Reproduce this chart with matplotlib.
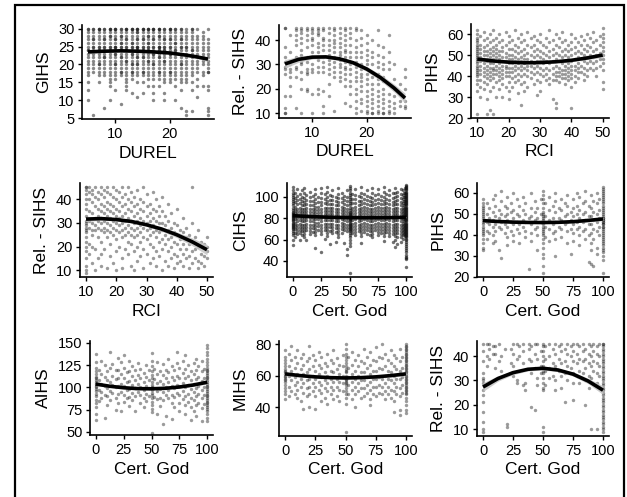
import matplotlib
matplotlib.use("Agg")
import numpy as np
import matplotlib.pyplot as plt
from matplotlib.patches import Rectangle

plt.rcParams['font.family'] = ['Liberation Sans', 'DejaVu Sans']

W, H = 627, 497

# ---------------- data ----------------
# panel 1: GIHS vs DUREL, one list of GIHS values per DUREL score
durel = [5, 6, 7, 8, 9, 10, 11, 12, 13, 14, 15, 16, 17, 18, 19, 20, 21, 22, 23, 24, 25, 26, 27]
gihs_cols = [
    [30, 30, 29, 28, 27, 26, 25, 24, 24, 23, 22, 21, 20, 19, 18, 17, 15, 13, 10],
    [30, 30, 29, 28, 27, 27, 26, 25, 25, 24, 23, 22, 21, 20, 19, 18, 6],
    [30, 30, 30, 29, 28, 27, 26, 25, 25, 24, 24, 23, 22, 21, 20, 20, 19, 18, 17, 15],
    [30, 30, 29, 28, 27, 27, 26, 25, 25, 24, 23, 22, 22, 21, 20, 19, 18, 17, 8],
    [30, 30, 30, 29, 28, 28, 27, 26, 25, 25, 24, 24, 23, 22, 21, 20, 19, 18, 17, 16, 15, 14, 10],
    [30, 30, 30, 29, 28, 27, 27, 26, 25, 25, 25, 24, 23, 23, 22, 21, 20, 20, 19, 18, 17, 16, 13],
    [30, 30, 29, 28, 28, 27, 26, 26, 25, 25, 24, 24, 23, 22, 22, 21, 20, 19, 18, 18, 17, 9],
    [30, 30, 30, 29, 28, 27, 27, 26, 25, 25, 24, 24, 23, 22, 21, 21, 20, 19, 18, 17, 16, 15, 14, 13],
    [30, 30, 30, 29, 28, 27, 26, 26, 25, 25, 24, 23, 23, 22, 21, 20, 20, 19, 18, 18, 17, 16, 12],
    [30, 30, 30, 29, 29, 28, 27, 27, 26, 25, 25, 25, 24, 24, 23, 22, 22, 21, 20, 20, 19, 18, 17, 15, 11],
    [30, 30, 30, 29, 28, 27, 27, 26, 25, 25, 24, 24, 23, 22, 22, 21, 20, 19, 18, 18, 17, 15, 12],
    [30, 30, 30, 29, 28, 28, 27, 26, 26, 25, 25, 24, 24, 23, 22, 21, 21, 20, 19, 18, 17, 16, 14],
    [30, 30, 30, 29, 28, 27, 27, 26, 25, 25, 24, 23, 23, 22, 21, 20, 20, 19, 18, 17, 16, 14, 12, 10],
    [30, 30, 30, 29, 28, 28, 27, 26, 25, 25, 25, 24, 24, 23, 22, 22, 21, 20, 19, 18, 18, 17, 16, 14],
    [30, 30, 29, 28, 27, 27, 26, 25, 25, 24, 24, 23, 22, 21, 21, 20, 19, 18, 17, 16, 15, 12, 10],
    [30, 30, 30, 29, 28, 27, 27, 26, 25, 25, 24, 23, 23, 22, 21, 20, 19, 18, 18, 17, 16, 15],
    [30, 30, 29, 28, 27, 26, 26, 25, 24, 24, 23, 22, 21, 20, 19, 18, 17, 16, 14, 10],
    [30, 30, 29, 28, 27, 27, 26, 25, 25, 24, 23, 22, 21, 20, 20, 19, 18, 17, 16, 15, 13, 8],
    [30, 29, 28, 27, 26, 25, 25, 24, 23, 22, 21, 20, 19, 18, 17, 16, 15, 7, 6],
    [30, 30, 29, 28, 27, 26, 25, 24, 24, 23, 22, 21, 20, 19, 18, 17, 15, 13, 7],
    [30, 28, 27, 26, 25, 24, 23, 22, 21, 20, 19, 18, 16, 14, 11],
    [29, 28, 27, 26, 25, 24, 23, 22, 21, 20, 18, 17, 14],
    [30, 27, 26, 25, 24, 23, 22, 21, 20, 19, 18, 18, 14, 13, 8, 7, 6],
]
p1_fit_x = [5, 8, 11, 14, 17, 20, 23, 25, 27]
p1_fit_y = [23.5, 23.7, 23.8, 23.7, 23.5, 23.2, 22.6, 22.1, 21.5]
p1_fit_se = [0.5, 0.3, 0.25, 0.25, 0.25, 0.3, 0.35, 0.45, 0.6]

# panel 2: Rel. - SIHS vs DUREL
sihs_durel_cols = [
    [45, 45, 37, 33, 31, 29, 28, 26, 17, 12, 10, 10],
    [42, 35, 30, 28, 27, 25, 21, 17],
    [45, 44, 42, 40, 38, 33, 29, 28, 25, 12],
    [45, 44, 43, 41, 39, 36, 34, 31, 30, 27, 24, 20, 10],
    [45, 44, 42, 40, 37, 33, 31, 28, 27, 26, 20, 19],
    [45, 44, 43, 41, 40, 38, 35, 33, 30, 28, 27, 18, 10],
    [45, 44, 43, 42, 39, 37, 35, 32, 29, 27, 20, 18],
    [45, 44, 41, 40, 38, 36, 33, 31, 29, 27, 19, 13, 10],
    [45, 43, 40, 38, 36, 34, 32, 30, 28, 26, 22, 17],
    [45, 44, 42, 40, 39, 37, 35, 33, 31, 29, 27, 25, 11],
    [45, 43, 41, 39, 37, 35, 34, 32, 30, 29, 27, 25, 23],
    [45, 44, 42, 40, 38, 36, 35, 33, 31, 29, 28, 26, 24, 21, 14],
    [45, 43, 41, 38, 35, 33, 31, 30, 28, 26, 23, 21, 18, 13],
    [45, 44, 40, 37, 35, 33, 31, 29, 27, 25, 23, 20, 18, 15, 12, 10],
    [44, 41, 38, 35, 33, 30, 28, 26, 25, 23, 21, 19, 16, 14, 11],
    [42, 39, 36, 34, 32, 30, 28, 26, 24, 22, 19, 17, 15, 13, 11, 10],
    [40, 35, 33, 30, 27, 25, 22, 20, 18, 16, 14, 12, 10, 10],
    [44, 38, 34, 31, 29, 26, 24, 22, 19, 17, 15, 13, 11, 10],
    [37, 33, 30, 28, 25, 23, 20, 18, 16, 14, 12, 10, 10],
    [42, 35, 31, 28, 22, 18, 15, 13, 11, 10],
    [30, 24, 20, 17, 14, 12, 10],
    [22, 18, 15, 13],
    [28, 25, 20, 15, 13, 12],
]
p2_fit_x = [5, 7.5, 10, 12.5, 15, 17.5, 20, 22.5, 25, 27]
p2_fit_y = [30.2, 32.1, 33.0, 33.1, 32.3, 30.7, 28.1, 24.6, 20.3, 16.2]
p2_fit_se = [1.8, 1.2, 0.8, 0.7, 0.7, 0.8, 1.0, 1.3, 1.6, 2.0]

# panel 3: PIHS vs RCI
rci = [10, 11, 12, 13, 14, 15, 16, 17, 18, 19, 20, 21, 22, 23, 24, 25, 26, 27, 28, 29,
       30, 31, 32, 33, 34, 35, 36, 37, 38, 39, 40, 41, 42, 43, 44, 45, 46, 47, 48, 49, 50]
pihs_rci_cols = [
    [62, 60, 58, 57, 56, 55, 54, 53, 52, 51, 50, 49, 48, 47, 46, 45, 44, 43, 42, 41, 40, 38, 36, 33, 22],
    [59, 55, 53, 51, 49, 47, 45, 43, 41, 38, 35, 30],
    [61, 57, 54, 52, 50, 48, 46, 44, 42, 40, 37, 34],
    [58, 55, 52, 50, 48, 47, 45, 43, 41, 39, 36, 29, 22],
    [60, 56, 53, 51, 49, 47, 46, 44, 42, 40, 38, 33, 24],
    [62, 57, 54, 52, 50, 48, 46, 44, 43, 41, 39, 35, 22],
    [58, 55, 53, 51, 49, 47, 45, 43, 41, 37, 30],
    [60, 56, 52, 50, 48, 46, 44, 42, 40, 38, 34],
    [57, 54, 52, 49, 47, 45, 43, 41, 39, 36, 30],
    [61, 55, 51, 49, 47, 45, 44, 42, 40, 35],
    [59, 56, 53, 50, 48, 46, 44, 42, 40, 37, 33, 29],
    [57, 53, 50, 48, 46, 44, 42, 39, 35],
    [62, 55, 52, 49, 47, 45, 43, 40, 37],
    [58, 54, 51, 48, 46, 44, 41, 38, 32],
    [60, 56, 52, 49, 47, 45, 43, 40, 36, 26],
    [57, 53, 50, 48, 46, 44, 41, 37, 33],
    [61, 55, 51, 48, 45, 43, 40, 35],
    [58, 54, 50, 47, 45, 42, 39],
    [59, 55, 52, 49, 46, 44, 41, 36],
    [57, 53, 50, 47, 45, 42, 38, 31],
    [60, 56, 52, 49, 47, 44, 41, 37, 33],
    [55, 51, 48, 46, 43, 40],
    [58, 54, 50, 47, 44, 41, 38],
    [62, 56, 52, 49, 46, 43, 39, 36],
    [57, 53, 50, 47, 44, 41, 38, 29],
    [60, 55, 51, 48, 45, 42, 40, 38, 27, 25],
    [58, 54, 50, 47, 44, 42, 40, 37],
    [61, 56, 52, 49, 46, 43, 41, 39],
    [57, 53, 50, 47, 45, 43, 41, 39, 36],
    [55, 52, 49, 46, 44, 42, 40, 38],
    [60, 56, 53, 50, 47, 45, 43, 41, 39, 35, 25],
    [58, 54, 51, 48, 45, 43, 40, 37],
    [56, 52, 49, 46, 44, 42, 39],
    [59, 55, 51, 48, 45, 42],
    [57, 53, 50, 47, 44, 41, 38],
    [60, 55, 52, 49, 46, 43, 40],
    [58, 54, 50, 47, 44],
    [61, 56, 52, 49, 46, 43],
    [57, 53, 50, 47, 44, 40],
    [59, 55, 51, 48, 45],
    [63, 60, 58, 56, 54, 52, 50, 48, 46, 43, 37, 34],
]
p3_fit_x = [10, 15, 20, 25, 30, 35, 40, 45, 50]
p3_fit_y = [48.1, 47.2, 46.6, 46.3, 46.4, 46.8, 47.5, 48.6, 50.0]
p3_fit_se = [0.8, 0.5, 0.4, 0.4, 0.4, 0.45, 0.6, 0.8, 1.1]

# panel 4: Rel. - SIHS vs RCI
sihs_rci_cols = [
    [45, 45, 44, 42, 40, 38, 36, 33, 31, 30, 29, 28, 27, 26, 24, 22, 20, 18, 15, 12, 10, 9],
    [45, 43, 40, 35, 31, 28, 21, 17],
    [44, 42, 39, 34, 30, 27, 25, 20, 13],
    [45, 41, 37, 32, 29, 27, 19, 10],
    [43, 40, 36, 33, 31, 28, 24, 15],
    [45, 42, 38, 35, 32, 30, 27, 22, 17, 12],
    [44, 41, 37, 34, 31, 28, 26, 19],
    [45, 43, 39, 36, 33, 30, 27, 24, 11],
    [42, 38, 35, 32, 29, 26, 21, 16],
    [45, 41, 37, 34, 31, 28, 25, 13],
    [44, 40, 36, 33, 30, 27, 23, 18, 10],
    [43, 39, 35, 32, 29, 26, 20],
    [45, 41, 37, 33, 30, 27, 24, 15, 11],
    [42, 38, 34, 31, 28, 25, 19],
    [45, 40, 36, 32, 29, 26, 22, 17],
    [43, 39, 35, 31, 28, 25, 21, 12],
    [41, 37, 33, 30, 27, 24, 18, 10],
    [44, 38, 34, 31, 28, 25, 20, 14],
    [40, 36, 32, 29, 26, 22, 16],
    [45, 39, 35, 31, 28, 24, 19, 11],
    [42, 37, 33, 30, 27, 23, 17],
    [38, 34, 31, 28, 25, 21, 13],
    [43, 36, 32, 29, 26, 20, 15],
    [40, 35, 31, 27, 24, 18, 12],
    [37, 33, 30, 26, 22, 16],
    [41, 35, 30, 27, 23, 19, 10],
    [33, 29, 25, 21, 14],
    [38, 31, 27, 23, 18, 12],
    [34, 28, 24, 20, 15],
    [30, 26, 22, 17, 11],
    [36, 29, 25, 21, 16, 13],
    [27, 23, 19, 14],
    [32, 26, 21, 17, 12],
    [28, 24, 19, 15],
    [25, 21, 16, 11],
    [45, 30, 22, 18, 13],
    [24, 19, 15],
    [27, 20, 14, 11],
    [22, 17, 13],
    [21, 16, 12],
    [24, 20, 18, 15],
]
p4_fit_x = [10, 15, 20, 25, 30, 35, 40, 45, 50]
p4_fit_y = [31.6, 31.8, 31.4, 30.6, 29.2, 27.4, 25.0, 22.1, 18.7]
p4_fit_se = [1.0, 0.7, 0.6, 0.6, 0.7, 0.9, 1.2, 1.6, 2.2]

# panel 5: CIHS vs Cert. God
cert5 = [0, 2, 4, 6, 8, 10, 12, 15, 18, 20, 22, 25, 28, 30, 33, 35, 38, 40, 43, 45, 48,
         50, 52, 55, 58, 60, 63, 65, 68, 70, 72, 75, 78, 80, 82, 85, 88, 90, 92, 95, 97, 98, 99, 100]
cihs_cols = [
    [109, 106, 104, 102, 100, 98, 96, 94, 92, 90, 88, 86, 85, 84, 83, 82, 81, 80, 79, 78, 77, 76, 75, 74, 73, 72, 71, 70, 68, 66, 64, 60, 55],
    [104, 99, 95, 91, 88, 85, 82, 79, 76, 73, 70, 66, 62],
    [107, 101, 97, 93, 89, 86, 83, 80, 77, 74, 71, 68, 65],
    [103, 98, 94, 90, 87, 84, 81, 78, 75, 72, 69, 66, 60],
    [106, 100, 96, 92, 89, 86, 83, 80, 77, 74, 71, 68, 64],
    [108, 104, 99, 95, 92, 89, 86, 83, 80, 77, 74, 71, 68, 65, 62],
    [102, 97, 93, 90, 87, 84, 81, 78, 75, 72, 69, 60],
    [105, 100, 96, 92, 89, 86, 83, 80, 77, 74, 71, 68, 65],
    [101, 96, 92, 89, 86, 83, 80, 77, 74, 71, 67],
    [107, 103, 98, 94, 91, 88, 85, 82, 79, 76, 73, 70, 67, 64, 52],
    [100, 95, 91, 88, 85, 82, 79, 76, 73, 69],
    [108, 104, 99, 95, 92, 89, 86, 83, 80, 77, 74, 71, 68, 65, 48],
    [103, 98, 94, 90, 87, 84, 81, 78, 75, 72, 69, 61],
    [109, 105, 100, 96, 93, 90, 87, 84, 81, 78, 75, 72, 69, 66, 63],
    [102, 97, 93, 90, 87, 84, 81, 78, 75, 72, 68, 56],
    [106, 101, 97, 93, 90, 87, 84, 81, 78, 75, 72, 69, 66],
    [100, 96, 92, 89, 86, 83, 80, 77, 74, 71, 67, 58],
    [108, 103, 99, 95, 92, 89, 86, 83, 80, 77, 74, 71, 68, 65, 62],
    [104, 99, 95, 91, 88, 85, 82, 79, 76, 73, 70, 66],
    [101, 97, 93, 90, 87, 84, 81, 78, 75, 72, 69, 57],
    [106, 100, 96, 92, 89, 86, 83, 80, 77, 74, 71, 68, 51, 46],
    [110, 108, 106, 104, 102, 100, 98, 96, 94, 92, 90, 88, 86, 85, 84, 83, 82, 81, 80, 79, 78, 77, 76, 75, 74, 73, 72, 71, 70, 69, 68, 66, 64, 62, 60, 57, 54, 29],
    [103, 98, 94, 90, 87, 84, 81, 78, 75, 72, 69, 66],
    [107, 102, 98, 94, 91, 88, 85, 82, 79, 76, 73, 70, 67, 64],
    [101, 96, 92, 89, 86, 83, 80, 77, 74, 71, 68],
    [109, 104, 100, 96, 93, 90, 87, 84, 81, 78, 75, 72, 69, 66, 63, 57],
    [103, 98, 94, 91, 88, 85, 82, 79, 76, 73, 70, 67],
    [106, 101, 97, 93, 90, 87, 84, 81, 78, 75, 72, 69, 65],
    [100, 96, 92, 89, 86, 83, 80, 77, 74, 71, 68, 64],
    [108, 104, 99, 95, 92, 89, 86, 83, 80, 77, 74, 71, 68, 65, 62],
    [102, 97, 93, 90, 87, 84, 81, 78, 75, 72, 69],
    [107, 103, 98, 94, 91, 88, 85, 82, 79, 76, 73, 70, 67, 64],
    [101, 97, 93, 90, 87, 84, 81, 78, 75, 72, 69, 66],
    [109, 105, 100, 96, 93, 90, 87, 84, 81, 78, 75, 72, 69, 66, 63, 59],
    [103, 98, 94, 91, 88, 85, 82, 79, 76, 73, 70, 67],
    [106, 102, 97, 93, 90, 87, 84, 81, 78, 75, 72, 69, 66, 63],
    [104, 99, 95, 92, 89, 86, 83, 80, 77, 74, 71, 68, 65, 58],
    [108, 104, 100, 96, 93, 90, 87, 84, 81, 78, 75, 72, 69, 66, 63, 60, 53],
    [105, 101, 97, 93, 90, 87, 84, 81, 78, 75, 72, 69, 66, 62, 56],
    [107, 103, 99, 95, 92, 89, 86, 83, 80, 77, 74, 71, 68, 65, 62, 58],
    [106, 102, 98, 94, 91, 88, 85, 82, 79, 76, 73, 70, 67, 64, 61],
    [104, 100, 96, 92, 89, 86, 83, 80, 77, 74, 71, 68, 65],
    [108, 104, 100, 96, 93, 90, 87, 84, 81, 78, 75, 72, 69, 66, 63],
    [111, 110, 109, 108, 107, 106, 105, 104, 103, 102, 101, 100, 99, 98, 97, 96, 95, 94, 93, 92, 91, 90,
     89, 88, 87, 86, 85, 84, 83, 82, 81, 80, 79, 78, 77, 76, 75, 74, 73, 72, 71, 70, 69, 68, 67, 66,
     65, 64, 63, 62, 61, 60, 58, 56, 54, 52, 50, 48, 46, 44, 43, 42, 34],
]
p5_fit_x = [0, 12.5, 25, 37.5, 50, 62.5, 75, 87.5, 100]
p5_fit_y = [82.4, 81.7, 81.2, 80.8, 80.6, 80.5, 80.5, 80.6, 80.9]
p5_fit_se = [0.7, 0.5, 0.4, 0.35, 0.35, 0.35, 0.35, 0.4, 0.5]

# panels 6-9: Cert. God subsample
cert_sub = [0, 3, 5, 8, 10, 13, 15, 18, 20, 23, 25, 28, 30, 33, 35, 38, 40, 43, 45, 48,
            50, 52, 55, 58, 60, 63, 65, 68, 70, 73, 75, 78, 80, 83, 85, 88, 90, 92, 95, 97, 100]
pihs_cols = [
    [57, 55, 54, 53, 52, 51, 50, 49, 48, 47, 46, 45, 44, 43, 42, 41, 40, 38, 36, 34, 33],
    [55, 50, 46, 42, 38], [53, 48, 45, 41], [57, 51, 47, 44, 40, 36], [59, 54, 49, 45, 42, 37],
    [52, 48, 44, 33], [61, 56, 50, 46, 43, 29], [54, 49, 45, 41], [58, 53, 50, 47, 44, 39, 35],
    [55, 51, 46, 42], [60, 52, 48, 45, 40, 37], [57, 50, 46, 43], [54, 49, 45, 41, 36],
    [58, 52, 47, 44], [55, 50, 46, 42, 39], [48, 24], [60, 53, 49, 45, 41, 37], [56, 51, 47, 43],
    [53, 48, 44, 40, 33], [57, 50, 46],
    [61, 59, 57, 55, 53, 51, 50, 49, 48, 47, 46, 45, 44, 43, 42, 41, 40, 38, 36, 34, 31, 29, 25, 22],
    [55, 49, 44, 39], [58, 52, 47, 43, 37], [54, 48, 45, 41], [60, 56, 51, 46, 42, 38, 30],
    [53, 48, 44], [57, 52, 47, 43, 39], [55, 49, 45], [59, 54, 50, 46, 42, 36], [51, 47, 43, 31],
    [57, 53, 49, 45, 41, 37], [60, 54, 50, 46, 43], [58, 52, 48, 44, 40, 35], [55, 50, 46, 42],
    [61, 56, 51, 47, 43, 38], [54, 49, 45, 40, 27], [59, 53, 49, 45, 41, 36, 33, 26],
    [56, 51, 47, 43, 38, 25], [60, 55, 50, 46, 42, 34, 31], [57, 52, 48, 44, 40],
    [63, 62, 61, 60, 59, 58, 57, 56, 55, 54, 53, 52, 51, 50, 49, 48, 48, 47, 47, 46, 46, 45, 45, 44,
     44, 43, 42, 41, 40, 39, 38, 37, 36, 35, 34, 33, 32, 30, 28, 22],
]
aihs_cols = [
    [137, 128, 122, 118, 115, 112, 110, 108, 106, 104, 102, 100, 98, 96, 93, 90, 86, 82, 78, 70, 63],
    [120, 108, 97, 85], [130, 115, 104, 95, 88], [125, 112, 101, 92, 66], [118, 108, 99, 90, 80],
    [140, 122, 106, 96, 86], [126, 113, 103, 94], [119, 109, 100, 88, 75],
    [133, 120, 110, 102, 93, 82], [128, 115, 104, 95, 73], [136, 122, 111, 101, 92, 84],
    [117, 106, 97, 88], [130, 118, 107, 98, 89, 79], [124, 113, 103, 94, 86],
    [119, 108, 99, 90, 74], [127, 114, 104, 95], [121, 110, 100, 91, 82], [116, 106, 97, 88, 78],
    [125, 112, 102, 93, 85], [119, 108, 99, 90],
    [139, 130, 124, 118, 114, 110, 106, 103, 100, 97, 94, 91, 88, 84, 80, 76, 72, 49],
    [121, 109, 99, 89], [128, 115, 105, 96, 87, 70], [118, 107, 98, 88, 79],
    [126, 114, 104, 95, 86, 59], [120, 110, 100, 91, 68], [132, 117, 106, 97, 88],
    [124, 112, 102, 92, 82, 65], [119, 108, 99, 89, 78], [140, 127, 113, 103, 94],
    [122, 111, 101, 92, 83, 74], [130, 116, 105, 96, 87], [136, 121, 110, 100, 90, 80, 70],
    [125, 113, 103, 93, 84], [118, 108, 98, 88, 78, 63], [127, 115, 104, 95, 86, 73],
    [132, 120, 109, 99, 90, 80, 68], [124, 112, 102, 93, 83], [130, 118, 107, 97, 88, 77, 62],
    [121, 110, 100, 91, 81],
    [148, 144, 140, 136, 132, 128, 125, 122, 120, 118, 116, 114, 112, 110, 108, 106, 104, 102, 100,
     98, 96, 94, 92, 90, 88, 86, 84, 82, 80, 78, 76, 74, 70, 66, 62],
]
mihs_cols = [
    [76, 72, 70, 68, 66, 64, 63, 62, 61, 60, 59, 58, 57, 56, 54, 52, 50, 48, 45],
    [74, 66, 60, 53, 47], [79, 70, 63, 57, 50], [72, 65, 59, 54, 48], [76, 68, 61, 56, 51, 46],
    [71, 64, 58, 53, 44], [74, 67, 61, 55, 49, 39], [69, 62, 57, 52, 47],
    [79, 71, 64, 58, 53, 48, 40], [73, 66, 60, 55, 50], [70, 63, 58, 53, 47, 39],
    [75, 67, 61, 56, 51], [72, 65, 59, 54, 49, 44], [68, 62, 57, 52, 46],
    [74, 66, 60, 55, 50, 42], [70, 63, 58, 53, 48], [76, 68, 62, 56, 51, 45],
    [71, 64, 58, 53, 47], [67, 61, 56, 51, 44], [73, 66, 60, 55, 50],
    [80, 77, 74, 72, 70, 68, 66, 64, 63, 62, 60, 59, 58, 57, 56, 55, 54, 52, 50, 48, 46, 42, 24],
    [72, 65, 59, 54, 48], [75, 67, 61, 56, 51, 45], [70, 63, 58, 53, 48, 40], [73, 66, 60, 55, 50],
    [69, 62, 57, 52, 46], [77, 68, 62, 57, 52, 47], [72, 65, 59, 54, 49],
    [75, 67, 61, 56, 51, 45, 41], [70, 63, 58, 53, 48], [78, 69, 63, 58, 53, 47],
    [72, 65, 59, 54, 49], [80, 71, 64, 58, 53, 48], [74, 66, 60, 55, 50, 45],
    [70, 63, 58, 53, 48], [76, 68, 62, 57, 51, 46], [73, 66, 60, 55, 50, 44, 37],
    [71, 64, 58, 53, 48], [77, 69, 63, 58, 52, 47, 38, 35], [72, 65, 59, 54, 49],
    [80, 79, 78, 77, 76, 75, 74, 73, 72, 71, 70, 69, 68, 67, 66, 65, 64, 63, 62, 61, 60, 59, 58, 57,
     56, 55, 54, 53, 52, 51, 50, 49, 48, 46, 44, 41, 38, 36],
]
sihs_cert_cols = [
    [45, 42, 38, 33, 31, 30, 29, 26, 24, 21, 17, 13, 10, 9],
    [45, 40, 36], [45, 43, 39], [44, 41], [44, 41, 35], [45, 38], [40, 34], [43], [12, 11],
    [43, 37, 33], [45, 41, 36, 32], [45, 39, 30, 29], [44, 40, 34], [45, 42, 37, 28], [29, 26],
    [45, 43, 39], [44, 38, 33, 19], [45, 41, 35, 18], [45, 39, 31, 28], [42, 36, 33],
    [45, 44, 42, 40, 38, 36, 34, 33, 31, 29, 27, 26, 11, 9],
    [44, 39, 34, 28], [45, 40, 35, 31], [43, 37, 32], [45, 41, 36, 30, 26], [44, 39, 34],
    [45, 42, 37, 32, 27], [43, 38, 33, 21], [45, 41, 36, 30], [44, 40, 35],
    [45, 42, 38, 33, 29, 22], [45, 41, 37, 32], [44, 39, 34, 29], [45, 42, 38, 33],
    [43, 39, 35, 30, 20], [45, 41, 37, 32, 27], [44, 40, 36, 31, 10], [45, 42, 38, 34],
    [44, 41, 37, 33, 29, 10], [45, 40, 36, 32],
    [45, 45, 44, 43, 42, 41, 40, 39, 38, 37, 36, 35, 34, 33, 32, 31, 30, 29, 28, 27, 26, 25, 24, 23,
     22, 21, 20, 19, 18, 17, 16, 15, 14, 13, 12, 11, 10, 9],
]
cert_fit_x = [0, 12.5, 25, 37.5, 50, 62.5, 75, 87.5, 100]
p6_fit_y = [46.8, 46.4, 46.1, 45.95, 45.9, 46.0, 46.3, 46.9, 47.6]
p6_fit_se = [0.9, 0.6, 0.5, 0.45, 0.45, 0.45, 0.5, 0.6, 0.9]
p7_fit_y = [103.8, 101.3, 99.6, 98.6, 98.4, 99.0, 100.4, 102.7, 105.8]
p7_fit_se = [2.0, 1.3, 1.0, 0.9, 0.9, 0.9, 1.0, 1.3, 2.0]
p8_fit_y = [61.1, 60.0, 59.2, 58.7, 58.5, 58.7, 59.2, 60.0, 61.1]
p8_fit_se = [1.2, 0.8, 0.6, 0.55, 0.55, 0.55, 0.6, 0.8, 1.2]
p9_fit_y = [27.3, 30.8, 33.2, 34.6, 35.0, 34.3, 32.6, 29.8, 26.0]
p9_fit_se = [1.8, 1.1, 0.8, 0.7, 0.7, 0.7, 0.8, 1.1, 1.8]


def flatten(xs, cols):
    x, y = [], []
    for xv, ys in zip(xs, cols):
        x += [xv] * len(ys)
        y += ys
    return x, y


def px_axes(fig, left, right, top, bottom):
    return fig.add_axes([left / W, 1 - bottom / H, (right - left) / W, (bottom - top) / H])


def panel(ax, xs, cols, fx, fy, fse, xlim, ylim, xticks, yticks, xlabel, ylabel, alpha=0.42):
    x, y = flatten(xs, cols)
    ax.scatter(x, y, s=6, c='#111111', alpha=alpha, linewidths=0, zorder=2)
    fy = np.array(fy)
    fse = np.array(fse)
    ax.fill_between(fx, fy - fse, fy + fse, color='#c4c4c4', alpha=0.85, lw=0, zorder=3)
    ax.plot(fx, fy, color='black', lw=2.6, solid_capstyle='butt', zorder=4)
    ax.set_xlim(xlim)
    ax.set_ylim(ylim)
    ax.set_xticks(xticks)
    ax.set_yticks(yticks)
    for s in ['top', 'right']:
        ax.spines[s].set_visible(False)
    for s in ['left', 'bottom']:
        ax.spines[s].set_linewidth(1.2)
        ax.spines[s].set_color('black')
    ax.tick_params(direction='out', length=3, width=1.0, labelsize=10.5, pad=2.5, colors='black')
    ax.set_xlabel(xlabel, fontsize=12.5, labelpad=3.5)
    ax.set_ylabel(ylabel, fontsize=12.5, labelpad=5)
    ax.set_facecolor('white')


fig = plt.figure(figsize=(W / 100, H / 100), dpi=100)

cert_ticks = [0, 25, 50, 75, 100]

ax = px_axes(fig, 82, 214, 25, 119)
panel(ax, durel, gihs_cols, p1_fit_x, p1_fit_y, p1_fit_se, (3.9, 28.1), (4.8, 31.0),
      [10, 20], [5, 10, 15, 20, 25, 30], 'DUREL', 'GIHS', alpha=0.5)

ax = px_axes(fig, 279, 411, 25, 118)
panel(ax, durel, sihs_durel_cols, p2_fit_x, p2_fit_y, p2_fit_se, (3.9, 28.1), (8.0, 46.2),
      [10, 20], [10, 20, 30, 40], 'DUREL', 'Rel. - SIHS')

ax = px_axes(fig, 471, 609, 24, 118)
panel(ax, rci, pihs_rci_cols, p3_fit_x, p3_fit_y, p3_fit_se, (8, 52), (20, 64.8),
      [10, 20, 30, 40, 50], [20, 30, 40, 50, 60], 'RCI', 'PIHS')

ax = px_axes(fig, 80, 213, 183, 277)
panel(ax, rci, sihs_rci_cols, p4_fit_x, p4_fit_y, p4_fit_se, (8, 52), (7.2, 46.8),
      [10, 20, 30, 40, 50], [10, 20, 30, 40], 'RCI', 'Rel. - SIHS')

ax = px_axes(fig, 287, 412, 183, 277)
panel(ax, cert5, cihs_cols, p5_fit_x, p5_fit_y, p5_fit_se, (-5, 105), (25, 113),
      cert_ticks, [40, 60, 80, 100], 'Cert. God', 'CIHS', alpha=0.6)

ax = px_axes(fig, 477, 609, 183, 277)
panel(ax, cert_sub, pihs_cols, cert_fit_x, p6_fit_y, p6_fit_se, (-5, 105), (20, 64.7),
      cert_ticks, [20, 30, 40, 50, 60], 'Cert. God', 'PIHS')

ax = px_axes(fig, 90, 213, 341, 435)
panel(ax, cert_sub, aihs_cols, cert_fit_x, p7_fit_y, p7_fit_se, (-5, 105), (46.6, 152),
      cert_ticks, [50, 75, 100, 125, 150], 'Cert. God', 'AIHS')

ax = px_axes(fig, 279, 412, 341, 436)
panel(ax, cert_sub, mihs_cols, cert_fit_x, p8_fit_y, p8_fit_se, (-5, 105), (21.6, 82),
      cert_ticks, [40, 60, 80], 'Cert. God', 'MIHS')

ax = px_axes(fig, 477, 609, 341, 436)
panel(ax, cert_sub, sihs_cert_cols, cert_fit_x, p9_fit_y, p9_fit_se, (-5, 105), (7.2, 46.2),
      cert_ticks, [10, 20, 30, 40], 'Cert. God', 'Rel. - SIHS')

# outer frame (bottom edge falls outside the image)
fig.add_artist(Rectangle((15 / W, -0.05), (624 - 15) / W, 1.05 - 5 / H,
                         transform=fig.transFigure, fill=False, edgecolor='black',
                         linewidth=1.6, clip_on=False))

fig.savefig('out.png', dpi=100, facecolor='white')
